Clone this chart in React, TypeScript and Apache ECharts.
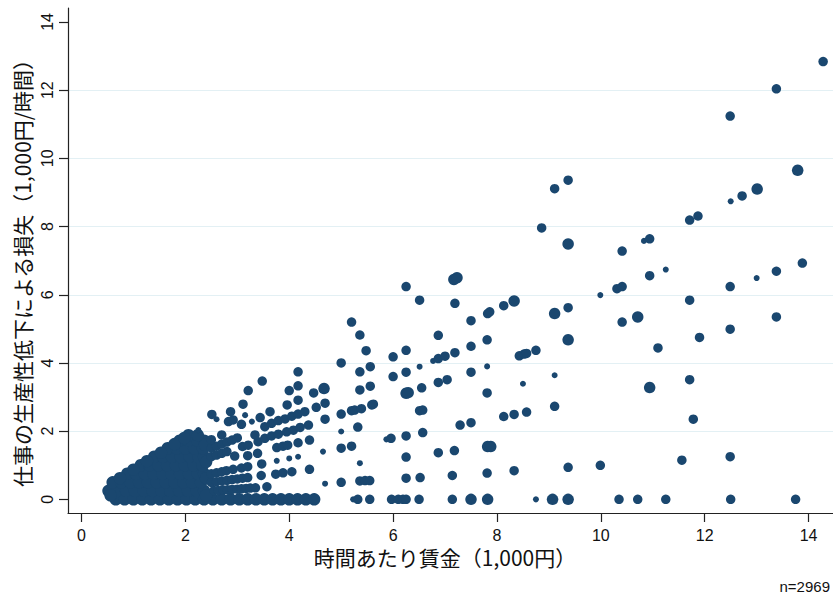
import React, { useEffect, useRef } from "react";
import * as echarts from "echarts";

const xTicks = [0, 2, 4, 6, 8, 10, 12, 14];
const yTicks = [0, 2, 4, 6, 8, 10, 12, 14];
const xTitle = "時間あたり賃金（1,000円）";
const yTitle = "仕事の生産性低下による損失（1,000円/時間）";
const noteText = "n=2969";

// dense cluster of overlapping markers (x, y)
const clusterPts: number[][] = [
  [0.66, 0], [0.83, 0], [1.0, 0], [1.17, 0], [1.34, 0], [1.51, 0], [1.68, 0], [1.85, 0], [2.02, 0], [2.19, 0], [2.36, 0], [2.53, 0], [2.7, 0], [2.87, 0], [3.04, 0], [3.2, 0], [3.36, 0], [3.52, 0], [3.68, 0], [3.84, 0], [4.0, 0], [4.16, 0], [4.32, 0], [4.48, 0],
  [0.52, 0.25], [0.69, 0.25], [0.86, 0.25], [1.03, 0.25], [1.2, 0.25], [1.37, 0.25], [1.54, 0.25], [1.71, 0.25], [1.88, 0.25], [2.05, 0.25], [2.22, 0.25], [2.36, 0.25],
  [0.6, 0.5], [0.77, 0.5], [0.94, 0.5], [1.11, 0.5], [1.28, 0.5], [1.45, 0.5], [1.62, 0.5], [1.79, 0.5], [1.96, 0.5], [2.13, 0.5], [2.3, 0.5],
  [0.88, 0.75], [1.05, 0.75], [1.22, 0.75], [1.39, 0.75], [1.56, 0.75], [1.73, 0.75], [1.9, 0.75], [2.07, 0.75], [2.24, 0.75], [2.36, 0.75],
  [1.14, 1.0], [1.31, 1.0], [1.48, 1.0], [1.65, 1.0], [1.82, 1.0], [1.99, 1.0], [2.16, 1.0], [2.33, 1.0],
  [1.4, 1.25], [1.57, 1.25], [1.74, 1.25], [1.91, 1.25], [2.08, 1.25], [2.25, 1.25], [2.36, 1.25],
  [1.66, 1.5], [1.83, 1.5], [2.0, 1.5], [2.17, 1.5], [2.34, 1.5],
  [1.89, 1.72], [2.06, 1.72], [2.23, 1.72], [2.36, 1.72],
  [2.06, 1.88], [2.24, 1.88],
  [0.74, 0.62], [1.0, 0.87], [1.26, 1.12], [1.53, 1.37], [1.79, 1.62], [1.98, 1.8],
  [0.56, 0.12], [2.4, 0.12], [2.4, 0.62], [2.4, 1.1], [2.38, 1.6],
];

// [x, y, sizeClass] sizeClass: 1 small, 2 medium, 3 large
const rayPts: number[][] = [
  [2.55, 0.26, 2], [2.63, 0.26, 2], [2.72, 0.28, 2], [2.81, 0.28, 2], [2.9, 0.29, 2], [3.0, 0.3, 2], [3.08, 0.31, 2], [3.17, 0.32, 2], [3.25, 0.33, 2], [3.35, 0.34, 2], [3.57, 0.37, 2],
  [2.5, 0.5, 2], [2.6, 0.52, 2], [2.7, 0.54, 2], [2.8, 0.56, 2], [2.9, 0.58, 2], [3.0, 0.6, 2], [3.1, 0.62, 2], [3.2, 0.64, 2], [3.46, 0.7, 2], [3.74, 0.74, 2], [3.88, 0.78, 2], [4.05, 0.81, 2], [4.39, 0.88, 2],
  [2.5, 0.75, 2], [2.6, 0.78, 2], [2.7, 0.81, 2], [2.79, 0.84, 2], [2.92, 0.88, 2], [3.08, 0.92, 2], [3.2, 0.96, 2], [3.47, 1.04, 2], [3.76, 1.13, 1], [4.0, 1.2, 1], [4.17, 1.25, 1], [4.65, 1.4, 1], [5.0, 1.5, 2], [5.2, 1.56, 2],
  [2.95, 1.27, 2], [3.2, 1.28, 2], [3.39, 1.35, 2], [3.76, 1.52, 2], [3.88, 1.56, 2], [3.97, 1.59, 2], [4.17, 1.66, 2], [4.39, 1.74, 2],
  [2.5, 1.25, 2], [2.6, 1.3, 2], [2.7, 1.35, 2], [2.8, 1.4, 2], [3.1, 1.55, 2], [3.21, 1.59, 2], [3.4, 1.69, 2], [3.53, 1.79, 2], [3.66, 1.86, 2], [3.79, 1.91, 2], [3.95, 1.98, 2], [4.08, 2.03, 2], [4.21, 2.11, 2], [4.37, 2.18, 2], [4.69, 2.35, 2], [5.0, 2.5, 2], [5.2, 2.6, 2], [5.26, 2.62, 2], [5.39, 2.66, 2], [5.59, 2.77, 2], [5.62, 2.79, 2],
  [2.5, 1.5, 2], [2.6, 1.56, 2], [2.7, 1.62, 2], [2.8, 1.68, 2], [2.9, 1.74, 2], [3.0, 1.8, 2], [3.34, 1.89, 2], [3.53, 2.13, 2], [3.66, 2.23, 2], [3.79, 2.31, 2], [3.92, 2.36, 2], [4.05, 2.44, 2], [4.17, 2.5, 2], [4.3, 2.57, 2], [4.52, 2.7, 2], [4.69, 2.82, 2], [5.36, 3.21, 2], [5.56, 3.32, 2],
  [2.5, 1.75, 2], [2.7, 1.89, 2], [3.08, 2.2, 2], [3.28, 2.28, 1], [3.44, 2.4, 2], [3.63, 2.57, 2], [3.96, 2.77, 2], [4.17, 2.91, 2], [4.47, 3.12, 2], [4.67, 3.25, 3], [5.36, 3.74, 2], [5.56, 3.89, 2],
  [2.83, 2.28, 2], [2.92, 2.33, 2], [3.15, 2.47, 1], [4.0, 3.19, 2], [4.17, 3.33, 2], [5.0, 4.0, 2], [5.48, 4.36, 2],
  [2.25, 2.03, 1], [2.6, 2.35, 1], [2.87, 2.57, 2], [3.11, 2.79, 2], [4.17, 3.74, 2], [5.36, 4.82, 2],
  [2.51, 2.49, 2], [3.21, 3.19, 2], [3.48, 3.47, 2], [5.2, 5.2, 2],
];

const midPts: number[][] = [
  [4.69, 0.46, 1], [5.0, 0.5, 2], [5.36, 0.54, 2], [5.46, 0.55, 2], [5.55, 0.55, 2],
  [5.36, 1.06, 1], [5.0, 1.99, 1], [5.32, 2.12, 2], [5.87, 1.76, 1], [5.96, 1.79, 2],
  [6.25, 1.86, 2], [6.57, 1.96, 2], [6.25, 1.24, 2], [6.25, 0.62, 2], [6.52, 0.64, 2],
  [6.87, 1.37, 2], [7.18, 1.43, 2], [7.82, 1.55, 3], [7.88, 1.55, 3],
  [7.14, 0.7, 2], [7.81, 0.77, 2], [8.33, 0.84, 2],
  [6.51, 2.6, 2], [6.57, 2.62, 2], [7.29, 2.18, 2], [7.5, 2.25, 2], [8.13, 2.43, 2], [8.33, 2.49, 2], [8.57, 2.56, 2],
  [6.25, 3.11, 3], [6.29, 3.13, 3], [6.55, 3.27, 2], [6.87, 3.43, 2], [7.04, 3.51, 2], [7.81, 3.12, 2], [8.5, 3.39, 1],
  [6.0, 3.6, 2], [6.25, 3.73, 2], [6.51, 3.89, 1], [7.5, 3.73, 2], [7.81, 3.9, 1],
  [6.0, 4.18, 2], [6.25, 4.37, 2], [6.77, 4.06, 1], [6.87, 4.13, 2], [7.0, 4.2, 2], [7.19, 4.3, 2],
  [8.43, 4.21, 2], [8.52, 4.26, 2], [8.57, 4.28, 2], [8.75, 4.37, 2],
  [7.5, 4.49, 2], [7.81, 4.68, 2], [6.87, 4.81, 2],
  [7.5, 5.24, 2], [7.82, 5.45, 2], [7.86, 5.5, 2], [8.13, 5.68, 2], [8.33, 5.82, 3],
  [6.51, 5.84, 2], [7.19, 5.75, 2], [6.25, 6.24, 2], [7.17, 6.45, 3], [7.23, 6.5, 3],
];

const zeroPts: number[][] = [
  [5.23, 0, 1], [5.32, 0, 2], [5.55, 0, 2], [5.97, 0, 2], [6.1, 0, 2], [6.19, 0, 2], [6.25, 0, 2], [6.5, 0, 2],
  [7.14, 0, 2], [7.5, 0, 3], [7.82, 0, 3], [8.75, 0, 1], [9.07, 0, 3], [9.37, 0, 3],
  [10.35, 0, 2], [10.71, 0, 2], [11.25, 0, 2], [12.5, 0, 2], [13.75, 0, 2],
];

const highPts: number[][] = [
  [9.11, 5.45, 3], [9.37, 5.62, 2], [9.11, 3.64, 1], [9.11, 2.73, 2], [9.37, 4.68, 3],
  [8.86, 7.96, 2], [9.37, 7.49, 3], [9.11, 9.11, 2], [9.37, 9.36, 2],
  [9.37, 0.94, 2], [9.99, 1.0, 2],
  [10.41, 7.28, 2], [10.83, 7.58, 1], [10.94, 7.64, 2],
  [11.25, 6.74, 1], [10.94, 6.56, 2], [10.31, 6.18, 2], [10.41, 6.24, 2], [9.99, 5.99, 1],
  [10.41, 5.2, 2], [10.71, 5.35, 3], [11.1, 4.44, 2], [11.71, 5.84, 2], [11.9, 4.75, 2],
  [12.49, 6.24, 2], [12.49, 4.99, 2], [13.0, 6.49, 1], [13.38, 6.69, 2], [13.88, 6.93, 2], [13.38, 5.35, 2],
  [10.94, 3.28, 3], [11.71, 3.51, 2], [11.78, 2.35, 2], [11.56, 1.15, 2], [12.49, 1.25, 2],
  [11.71, 8.19, 2], [11.87, 8.31, 2], [12.5, 8.74, 1], [12.72, 8.9, 2], [13.01, 9.1, 3], [13.79, 9.65, 3],
  [12.49, 11.24, 2], [13.38, 12.04, 2], [14.28, 12.84, 2],
];

const MARKER = "#1a476f";
const LABEL_FONT = '"Liberation Sans", Arial, Helvetica, sans-serif';
const CJK_FONT = '"Noto Sans CJK JP", "Noto Sans", sans-serif';

function sizeOf(v: number[]) {
  const s = v[2];
  if (s === 1) return 6;
  if (s === 3) return 11.5;
  return 9.5;
}

export default function App() {
  const ref = useRef<HTMLDivElement>(null);
  useEffect(() => {
    if (!ref.current) return;
    const chart = echarts.init(ref.current, null, { renderer: "svg" });
    const axisLine = { show: true, onZero: false, lineStyle: { color: "#222", width: 1.2 } };
    chart.setOption({
      animation: false,
      backgroundColor: "#ffffff",
      grid: { left: 68, right: 0, top: 8, bottom: 83, containLabel: false },
      xAxis: {
        type: "value",
        min: -0.26,
        max: 14.47,
        splitNumber: 7,
        axisLine,
        axisTick: { show: true, length: 9, customValues: xTicks, lineStyle: { color: "#222", width: 1.2 } },
        axisLabel: { customValues: xTicks, margin: 14, fontSize: 16, color: "#111", fontFamily: LABEL_FONT },
        splitLine: { show: false },
      },
      yAxis: {
        type: "value",
        min: -0.4,
        max: 14.41,
        splitNumber: 7,
        axisLine,
        axisTick: { show: true, length: 9, customValues: yTicks, lineStyle: { color: "#222", width: 1.2 } },
        axisLabel: { customValues: yTicks, rotate: 90, margin: 13, fontSize: 16, color: "#111", fontFamily: LABEL_FONT },
        splitLine: { show: true, showMinLine: false, showMaxLine: false, lineStyle: { color: "#e3f0f4", width: 1 } },
      },
      series: [
        {
          type: "scatter",
          data: clusterPts,
          symbolSize: 12.5,
          itemStyle: { color: MARKER, opacity: 1 },
          silent: true,
        },
        {
          type: "scatter",
          data: [...rayPts, ...midPts, ...zeroPts, ...highPts],
          symbolSize: (v: number[]) => sizeOf(v),
          itemStyle: { color: MARKER, opacity: 1 },
          silent: true,
        },
      ],
      graphic: [
        {
          type: "text",
          x: 445,
          y: 557,
          style: { text: xTitle, fontSize: 21, fontFamily: CJK_FONT, fill: "#111", align: "center", verticalAlign: "middle" },
        },
        {
          type: "text",
          x: 22,
          y: 268,
          rotation: Math.PI / 2,
          style: { text: yTitle, fontSize: 21, fontFamily: CJK_FONT, fill: "#111", align: "center", verticalAlign: "middle" },
        },
        {
          type: "text",
          x: 830,
          y: 586,
          style: { text: noteText, fontSize: 15, fontFamily: LABEL_FONT, fill: "#111", align: "right", verticalAlign: "middle" },
        },
      ],
    });
    return () => chart.dispose();
  }, []);
  return <div ref={ref} style={{ position: "fixed", left: 0, top: 0, width: 833, height: 596 }} />;
}
